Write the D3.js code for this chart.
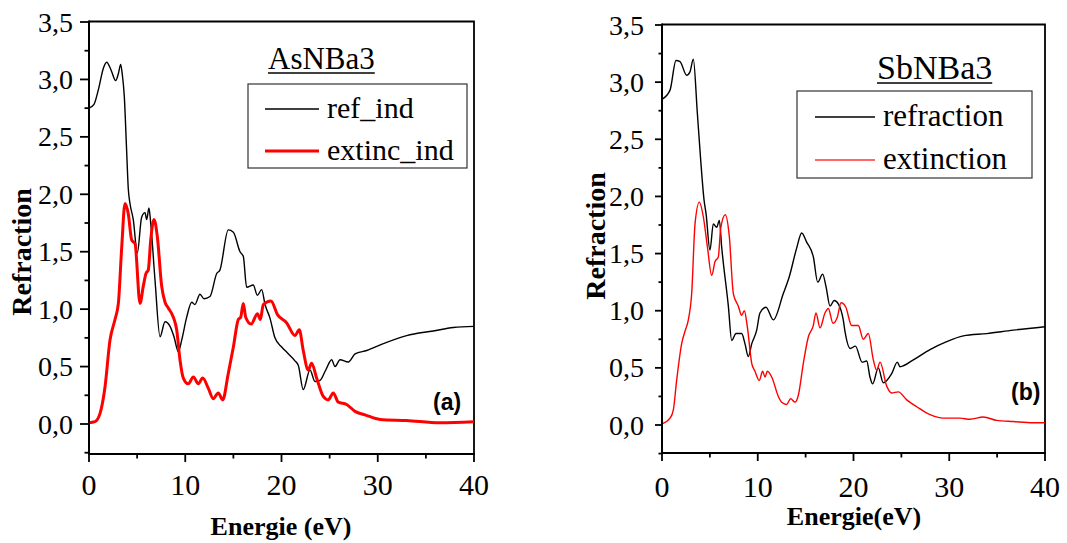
<!DOCTYPE html>
<html>
<head>
<meta charset="utf-8">
<script src="https://cdn.jsdelivr.net/npm/d3@7"></script>
<style>
  html, body { margin: 0; padding: 0; background: #fff; }
  svg { display: block; }
</style>
</head>
<body>
<svg id="chart" width="1067" height="543"></svg>
<script>
// Energy axis ticks and refraction axis tick labels
const xTicks = [0, 10, 20, 30, 40];
const xMinorTicks = [5, 15, 25, 35];
const yTicks = [0, 0.5, 1.0, 1.5, 2.0, 2.5, 3.0, 3.5];
const yTickLabels = ["0,0", "0,5", "1,0", "1,5", "2,0", "2,5", "3,0", "3,5"];
const yMinorTicks = [-0.25, 0.25, 0.75, 1.25, 1.75, 2.25, 2.75, 3.25];

// (a) AsNBa3 — [energy eV, value]
const asRefIndex = [[0,2.75],[0.5,2.78],[1.0,2.92],[1.5,3.10],[1.84,3.15],[2.3,3.08],[2.77,2.99],[3.05,3.05],[3.29,3.13],[3.45,3.05],[3.67,2.85],[3.9,2.4],[4.08,2.05],[4.26,1.92],[4.6,1.78],[5.02,1.49],[5.47,1.80],[5.82,1.84],[5.99,1.78],[6.23,1.88],[6.41,1.75],[6.86,1.25],[7.38,0.76],[7.9,0.89],[8.42,0.85],[8.83,0.76],[9.28,0.63],[9.63,0.73],[10.15,0.93],[10.67,1.06],[11.0,1.04],[11.53,1.13],[11.95,1.09],[12.57,1.11],[13.27,1.31],[13.6,1.34],[14.47,1.69],[15.0,1.67],[15.69,1.50],[16.03,1.46],[16.38,1.19],[17.07,1.21],[17.49,1.12],[17.94,1.17],[18.29,1.04],[18.81,0.92],[19.32,0.75],[20.02,0.67],[20.6,0.62],[21.4,0.55],[21.75,0.51],[22.26,0.30],[22.96,0.47],[23.48,0.37],[24.0,0.38],[24.6,0.47],[25.21,0.56],[25.56,0.50],[26.08,0.56],[26.94,0.54],[27.64,0.61],[28.85,0.64],[30.58,0.70],[33.0,0.77],[35.77,0.81],[37.85,0.84],[40,0.85]];
const asExtIndex = [[0,0.01],[0.62,0.02],[1.14,0.09],[1.66,0.32],[2.18,0.73],[2.70,0.91],[3.05,1.05],[3.40,1.54],[3.74,1.92],[4.08,1.83],[4.44,1.60],[4.78,1.57],[5.30,1.05],[5.64,1.20],[5.92,1.31],[6.16,1.34],[6.41,1.60],[6.75,1.78],[7.10,1.63],[7.55,1.20],[7.9,1.06],[8.24,1.01],[8.76,0.93],[9.11,0.82],[9.45,0.56],[9.80,0.40],[10.32,0.35],[10.84,0.41],[11.36,0.35],[11.81,0.40],[12.40,0.31],[12.91,0.22],[13.43,0.27],[13.89,0.21],[14.47,0.44],[15.0,0.67],[15.51,0.91],[15.76,0.93],[16.03,1.05],[16.28,0.93],[16.85,0.87],[17.5,0.96],[17.8,0.91],[18.11,1.04],[18.9,1.07],[19.6,0.95],[20.54,0.88],[21.40,0.77],[21.85,0.82],[22.26,0.64],[22.78,0.47],[23.13,0.53],[23.65,0.40],[24.34,0.24],[24.86,0.21],[25.38,0.27],[25.9,0.19],[26.77,0.17],[27.64,0.11],[28.68,0.08],[30.23,0.04],[33.0,0.03],[36.47,0.01],[40,0.02]];

// (b) SbNBa3 — [energy eV, value]
const sbRefraction = [[0,2.85],[0.84,2.93],[1.46,3.19],[1.88,3.18],[2.58,3.06],[2.92,3.09],[3.27,3.20],[3.69,2.73],[4.04,2.32],[4.39,1.97],[4.6,1.85],[5.01,1.53],[5.36,1.76],[5.71,1.73],[5.99,1.79],[6.23,1.56],[6.93,1.04],[7.28,0.74],[7.73,0.80],[8.32,0.80],[8.67,0.71],[9.01,0.60],[9.37,0.71],[9.89,0.83],[10.23,0.98],[10.86,1.03],[11.63,0.92],[12.67,1.15],[13.30,1.30],[14.07,1.55],[14.59,1.68],[15.11,1.60],[15.81,1.47],[16.26,1.25],[16.78,1.32],[17.13,1.21],[17.55,1.04],[17.99,1.09],[18.41,1.06],[18.93,0.92],[19.11,0.82],[19.67,0.67],[20.2,0.69],[20.9,0.55],[21.38,0.56],[21.72,0.42],[22.0,0.36],[22.59,0.50],[23.11,0.37],[23.99,0.45],[24.58,0.55],[24.86,0.51],[26.25,0.57],[27.99,0.66],[29.73,0.73],[31.47,0.78],[33.91,0.80],[36.69,0.83],[40,0.86]];
const sbExtinction = [[0,0.01],[0.84,0.06],[1.18,0.13],[1.53,0.39],[2.05,0.71],[2.40,0.82],[2.75,0.92],[3.10,1.15],[3.45,1.76],[3.90,1.95],[4.32,1.82],[4.74,1.56],[5.19,1.31],[5.54,1.43],[5.88,1.47],[6.13,1.72],[6.61,1.84],[7.03,1.65],[7.45,1.15],[7.97,1.04],[8.32,0.96],[8.60,1.00],[8.91,0.86],[9.37,0.54],[9.71,0.47],[10.16,0.39],[10.51,0.47],[10.76,0.42],[11.0,0.47],[11.46,0.42],[12.15,0.25],[12.50,0.20],[13.02,0.18],[13.44,0.23],[13.89,0.20],[14.24,0.26],[14.76,0.54],[15.28,0.77],[15.80,0.87],[16.08,0.98],[16.50,0.85],[17.02,0.98],[17.37,1.02],[17.86,0.89],[18.3,0.94],[18.7,1.07],[19.2,1.03],[19.81,0.87],[20.50,0.87],[21.02,0.75],[21.55,0.80],[22.07,0.57],[22.42,0.48],[22.77,0.55],[23.47,0.34],[23.99,0.28],[24.68,0.29],[25.56,0.22],[26.6,0.16],[27.99,0.09],[29.38,0.06],[31.12,0.06],[32.17,0.05],[33.56,0.07],[34.96,0.04],[36.69,0.03],[38.78,0.02],[40,0.02]];

const svg = d3.select("#chart");
const SERIF = "'Liberation Serif', 'Times New Roman', serif";
const SANS = "'Liberation Sans', Arial, sans-serif";

function drawPanel(p) {
  const x = d3.scaleLinear().domain([0, 40]).range([p.left, p.right]);
  const y = d3.scaleLinear().domain([0, 3.5]).range([p.y0, p.y35]);
  const bottom = p.bottom;
  const g = svg.append("g");

  // plot frame (top and right edges)
  g.append("path")
    .attr("d", `M${p.left},${p.y35 - 0.5}H${p.right}V${bottom}`)
    .attr("fill", "none").attr("stroke", "#000").attr("stroke-width", 1.8);

  // series
  const line = d3.line().x(d => x(d[0])).y(d => y(d[1])).curve(d3.curveMonotoneX);
  g.append("path").datum(p.ref).attr("d", line)
    .attr("fill", "none").attr("stroke", "#000").attr("stroke-width", 1.4)
    .attr("stroke-linejoin", "round");
  g.append("path").datum(p.ext).attr("d", line)
    .attr("fill", "none").attr("stroke", p.extColor).attr("stroke-width", p.extWidth)
    .attr("stroke-linejoin", "round");

  // left axis
  g.append("line").attr("x1", p.left).attr("x2", p.left)
    .attr("y1", p.y35 - 1.4).attr("y2", bottom)
    .attr("stroke", "#000").attr("stroke-width", 2);
  g.selectAll(".ymaj").data(yTicks).join("line")
    .attr("x1", p.left - p.tickLen).attr("x2", p.left)
    .attr("y1", d => y(d)).attr("y2", d => y(d))
    .attr("stroke", "#000").attr("stroke-width", 1.8);
  g.selectAll(".ymin").data(yMinorTicks).join("line")
    .attr("x1", p.left - p.tickLen / 2).attr("x2", p.left)
    .attr("y1", d => y(d)).attr("y2", d => y(d))
    .attr("stroke", "#000").attr("stroke-width", 1.8);
  g.selectAll(".ylab").data(yTicks).join("text")
    .attr("x", p.yLabelX).attr("y", d => y(d)).attr("dy", "0.34em")
    .attr("text-anchor", "end")
    .attr("font-family", SERIF).attr("font-size", 28)
    .text((d, i) => yTickLabels[i]);

  // bottom axis
  g.append("line").attr("x1", p.left - 1).attr("x2", p.right + 1)
    .attr("y1", bottom).attr("y2", bottom)
    .attr("stroke", "#000").attr("stroke-width", 2);
  g.selectAll(".xmaj").data(xTicks).join("line")
    .attr("x1", d => x(d)).attr("x2", d => x(d))
    .attr("y1", bottom).attr("y2", bottom + 8)
    .attr("stroke", "#000").attr("stroke-width", 1.8);
  g.selectAll(".xmin").data(xMinorTicks).join("line")
    .attr("x1", d => x(d)).attr("x2", d => x(d))
    .attr("y1", bottom).attr("y2", bottom + 4.5)
    .attr("stroke", "#000").attr("stroke-width", 1.8);
  g.selectAll(".xlab").data(xTicks).join("text")
    .attr("x", d => x(d)).attr("y", p.xLabelY)
    .attr("text-anchor", "middle")
    .attr("font-family", SERIF).attr("font-size", 30)
    .text(d => d);

  // axis titles
  g.append("text")
    .attr("x", p.xTitleX).attr("y", p.xTitleY)
    .attr("text-anchor", "middle")
    .attr("font-family", SERIF).attr("font-weight", "bold").attr("font-size", 26)
    .text(p.xTitle);
  g.append("text")
    .attr("transform", `translate(${p.yTitleX},${p.yTitleY}) rotate(-90)`)
    .attr("text-anchor", "middle")
    .attr("font-family", SERIF).attr("font-weight", "bold").attr("font-size", 28)
    .text("Refraction");

  // compound name, underlined
  const title = g.append("text")
    .attr("x", p.nameX).attr("y", p.nameY)
    .attr("font-family", SERIF).attr("font-size", p.nameSize)
    .text(p.name);
  const tw = title.node().getComputedTextLength();
  g.append("line")
    .attr("x1", p.nameX).attr("x2", p.nameX + tw)
    .attr("y1", p.nameY + 4).attr("y2", p.nameY + 4)
    .attr("stroke", "#000").attr("stroke-width", 1.3);

  // legend
  const lg = p.legend;
  g.append("rect")
    .attr("x", lg.x).attr("y", lg.y).attr("width", lg.w).attr("height", lg.h)
    .attr("fill", "#fff").attr("stroke", "#333").attr("stroke-width", 1.2);
  const entries = [
    { label: p.refLabel, color: "#000", width: 1.4 },
    { label: p.extLabel, color: p.legendExtColor, width: p.extWidth }
  ];
  entries.forEach((e, i) => {
    const cy = lg.rowY[i];
    g.append("line")
      .attr("x1", lg.x + lg.lineStart).attr("x2", lg.x + lg.lineEnd)
      .attr("y1", cy).attr("y2", cy)
      .attr("stroke", e.color).attr("stroke-width", e.width);
    g.append("text")
      .attr("x", lg.x + lg.textStart).attr("y", cy + lg.textDy)
      .attr("font-family", SERIF).attr("font-size", lg.fontSize)
      .text(e.label);
  });

  // panel tag
  g.append("text")
    .attr("x", p.tagX).attr("y", p.tagY)
    .attr("font-family", SANS).attr("font-weight", "bold").attr("font-size", 23)
    .text(p.tag);
}

drawPanel({
  left: 89, right: 474, y0: 424, y35: 22, bottom: 454, tickLen: 9,
  yLabelX: 73, xLabelY: 495,
  ref: asRefIndex, ext: asExtIndex, extColor: "#ff0000", legendExtColor: "#ff0000", extWidth: 3,
  xTitle: "Energie (eV)", xTitleX: 281, xTitleY: 535,
  yTitleX: 31, yTitleY: 252,
  name: "AsNBa3", nameX: 268, nameY: 69, nameSize: 31,
  refLabel: "ref_ind", extLabel: "extinc_ind",
  legend: { x: 248, y: 84, w: 219, h: 84, rowY: [109, 151], lineStart: 17, lineEnd: 71,
            textStart: 79, textDy: 9, fontSize: 30 },
  tag: "(a)", tagX: 433, tagY: 410
});

drawPanel({
  left: 662, right: 1045, y0: 425, y35: 25, bottom: 453, tickLen: 7,
  yLabelX: 644, xLabelY: 497,
  ref: sbRefraction, ext: sbExtinction, extColor: "#ff0000", legendExtColor: "#ff3333", extWidth: 1.4,
  xTitle: "Energie(eV)", xTitleX: 854, xTitleY: 525,
  yTitleX: 605, yTitleY: 236,
  name: "SbNBa3", nameX: 877, nameY: 79, nameSize: 34,
  refLabel: "refraction", extLabel: "extinction",
  legend: { x: 797, y: 91, w: 235, h: 87, rowY: [117, 160], lineStart: 18, lineEnd: 78,
            textStart: 86, textDy: 9, fontSize: 31 },
  tag: "(b)", tagX: 1011, tagY: 400
});
</script>
</body>
</html>
